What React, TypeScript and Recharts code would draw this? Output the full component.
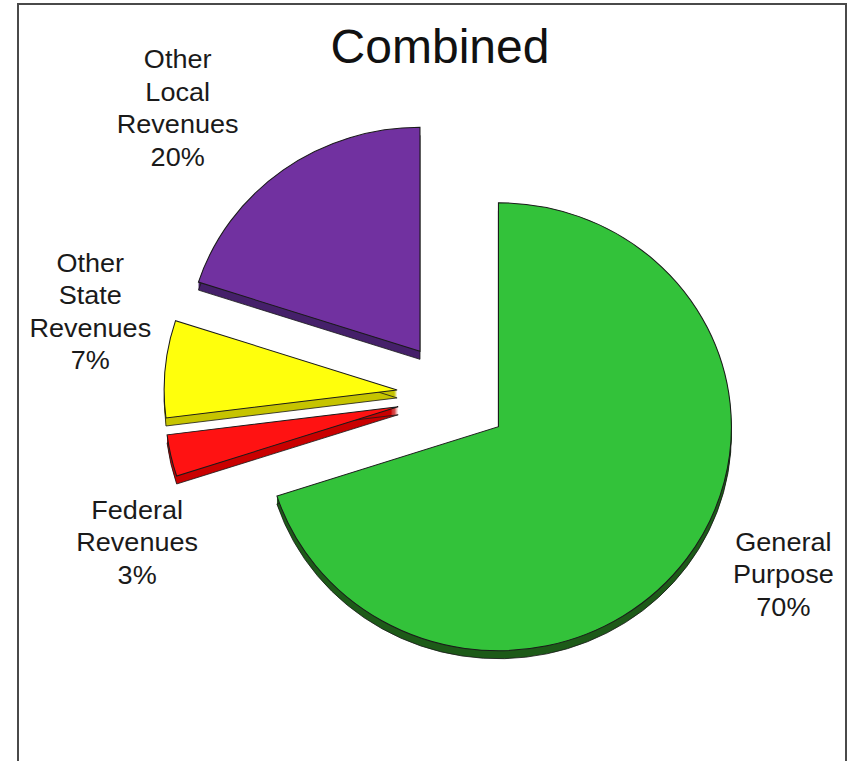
import { PieChart, Pie, Cell } from "recharts";

// slice order follows the reference: clockwise from 12 o'clock
const CATEGORIES = ["General Purpose", "Federal Revenues", "Other State Revenues", "Other Local Revenues"];
const LABEL_LINES = [
  ["General", "Purpose"],
  ["Federal", "Revenues"],
  ["Other", "State", "Revenues"],
  ["Other", "Local", "Revenues"],
];
const SHARES = [70, 3, 7, 20];

const FACE_COLORS = ["#33c23a", "#ff1212", "#ffff0c", "#7131a0"];
const SIDE_COLORS = ["#1d5a18", "#c90000", "#c6c400", "#45206a"];

const FONT = "'Liberation Sans', Arial, sans-serif";
const W = 848;
const H = 761;
const CX = 453;
const CY = 395;
const RADIUS = 224;
const STRETCH_X = 1.04; // the original pie is a touch wider than tall
const EXPLODE = 54;
const DEPTH = 8;
const LINE_H = 32.5;
// label anchor (centre x, first baseline) relative to each exploded slice centre
const LABEL_OFFSETS = [
  [274, 124],
  [-251, 112],
  [-295, -118],
  [-233, -283],
];
// paint back to front
const DRAW_ORDER = [3, 2, 1, 0];

const data = CATEGORIES.map((name, i) => ({ name, value: SHARES[i] }));
const total = SHARES.reduce((a, b) => a + b, 0);

function midAngle(i: number) {
  const before = SHARES.slice(0, i).reduce((a, b) => a + b, 0);
  return 90 - (360 * (before + SHARES[i] / 2)) / total;
}

const makeLabel = (slice: number) => (props: any) => {
  if (props.index !== slice) return null;
  const [dx, dy] = LABEL_OFFSETS[slice];
  const x = props.cx + dx;
  const y = props.cy + dy;
  const lines = [...LABEL_LINES[slice], `${SHARES[slice]}%`];
  return (
    <text x={x} y={y} textAnchor="middle" fontFamily={FONT} fontSize={26} fill="#1a1a1a">
      {lines.map((l, k) => (
        <tspan key={k} x={x} dy={k === 0 ? 0 : LINE_H}>
          {l}
        </tspan>
      ))}
    </text>
  );
};

function slicePies(i: number) {
  const a = (midAngle(i) * Math.PI) / 180;
  const ox = CX + EXPLODE * Math.cos(a);
  const oy = CY - EXPLODE * Math.sin(a);
  const sides = [];
  for (let k = 1; k <= DEPTH; k++) {
    sides.push(
      <Pie
        key={`side-${i}-${k}`}
        data={data}
        dataKey="value"
        cx={ox}
        cy={oy + k}
        outerRadius={RADIUS}
        startAngle={90}
        endAngle={-270}
        isAnimationActive={false}
        labelLine={false}
        label={false}
      >
        {data.map((_, j) => (
          <Cell
            key={j}
            fill={j === i ? SIDE_COLORS[i] : "none"}
            stroke={j === i && k === DEPTH ? "#1a1a1a" : "none"}
            strokeWidth={0.8}
          />
        ))}
      </Pie>
    );
  }
  return [
    ...sides,
    <Pie
      key={`face-${i}`}
      data={data}
      dataKey="value"
      cx={ox}
      cy={oy}
      outerRadius={RADIUS}
      startAngle={90}
      endAngle={-270}
      isAnimationActive={false}
      labelLine={false}
      label={makeLabel(i)}
    >
      {data.map((_, j) => (
        <Cell
          key={j}
          fill={j === i ? FACE_COLORS[i] : "none"}
          stroke={j === i ? "#1a1a1a" : "none"}
          strokeWidth={1}
        />
      ))}
    </Pie>,
  ];
}

export default function App() {
  return (
    <div style={{ position: "fixed", left: 0, top: 0, width: W, height: H, background: "#fff", overflow: "hidden" }}>
      <div
        style={{
          position: "absolute",
          left: 17,
          top: 3,
          width: 830,
          height: 820,
          border: "2px solid #4a4a4a",
          boxSizing: "border-box",
        }}
      />
      <div
        style={{
          position: "absolute",
          left: 0,
          top: 0,
          transform: `scaleX(${STRETCH_X})`,
          transformOrigin: `${CX}px 0px`,
        }}
      >
        <PieChart width={W} height={H} margin={{ top: 0, right: 0, bottom: 0, left: 0 }}>
          {DRAW_ORDER.map((i) => slicePies(i))}
        </PieChart>
      </div>
      <svg width={W} height={90} style={{ position: "absolute", left: 0, top: 0 }}>
        <text x={440} y={63} textAnchor="middle" fontFamily={FONT} fontSize={48} fill="#111">
          Combined
        </text>
      </svg>
    </div>
  );
}
